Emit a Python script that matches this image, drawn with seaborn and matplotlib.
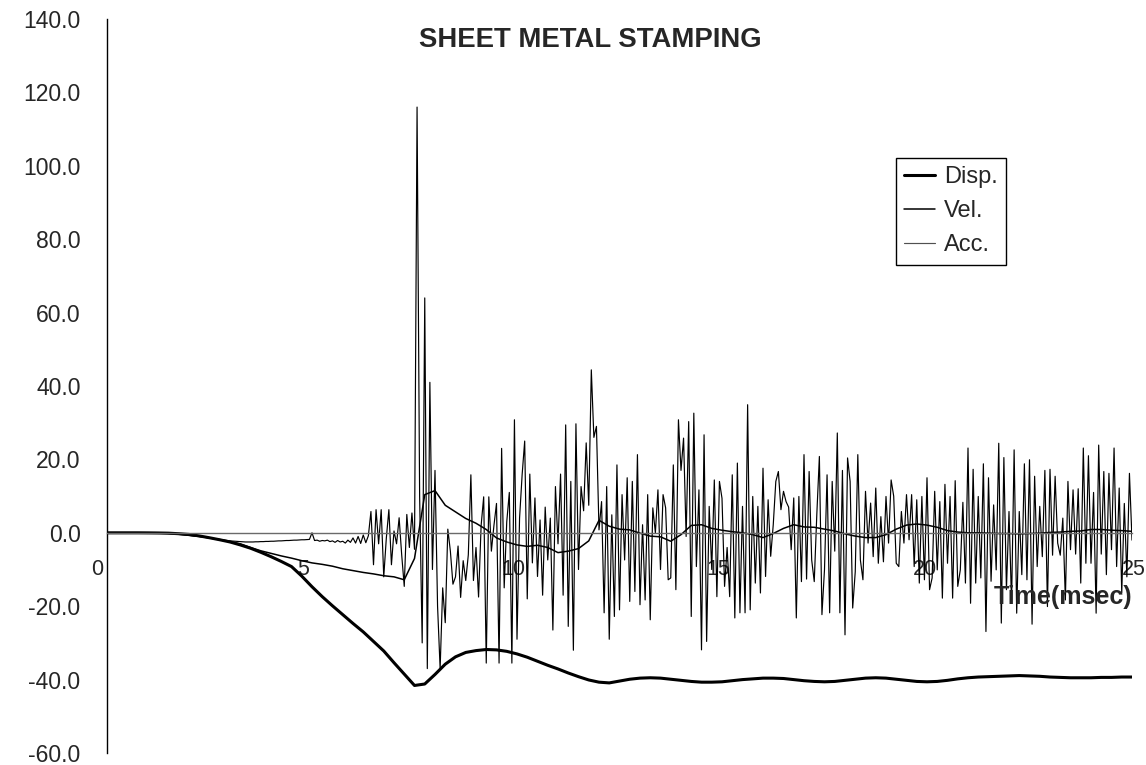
import numpy as np
import matplotlib
matplotlib.use("Agg")
import matplotlib.pyplot as plt
import matplotlib.transforms as mtransforms
from matplotlib.ticker import FormatStrFormatter
import seaborn as sns

# ---- Tick positions -------------------------------------------------------
x_ticks = [0, 5, 10, 15, 20, 25]
x_tick_labels = ["0", "5", "10", "15", "20", "25"]
y_ticks = [-60, -40, -20, 0, 20, 40, 60, 80, 100, 120, 140]

# ---- Displacement, sampled every 0.25 ms (0 .. 25 ms), one row per ms ------
disp = [
    0.0, 0.0, 0.0, 0.0,
    -0.02, -0.05, -0.1, -0.25,
    -0.45, -0.85, -1.35, -1.9,
    -2.5, -3.3, -4.2, -5.3,
    -6.5, -7.8, -9.2, -11.8,
    -14.7, -17.4, -19.9, -22.3,
    -24.7, -27.0, -29.6, -32.2,
    -35.4, -38.5, -41.6, -41.2,
    -38.6, -35.8, -33.8, -32.6,
    -32.1, -31.8, -31.9, -32.3,
    -33.0, -33.9, -35.0, -36.1,
    -37.1, -38.2, -39.2, -40.1,
    -40.7, -40.9, -40.4, -39.9,
    -39.6, -39.5, -39.6, -39.9,
    -40.2, -40.5, -40.7, -40.7,
    -40.6, -40.3, -40.0, -39.8,
    -39.6, -39.6, -39.7, -40.0,
    -40.3, -40.5, -40.6, -40.5,
    -40.2, -39.9, -39.6, -39.5,
    -39.6, -39.9, -40.2, -40.5,
    -40.6, -40.5, -40.2, -39.8,
    -39.5, -39.3, -39.2, -39.1,
    -39.0, -38.9, -39.0, -39.1,
    -39.3, -39.4, -39.5, -39.5,
    -39.5, -39.4, -39.4, -39.3,
    -39.3,
]

# ---- Velocity, sampled every 0.25 ms (0 .. 25 ms), one row per ms ----------
vel = [
    0.0, 0.0, 0.0, 0.0,
    -0.05, -0.1, -0.2, -0.4,
    -0.7, -1.0, -1.4, -1.9,
    -2.4, -3.0, -4.0, -4.9,
    -5.6, -6.3, -6.9, -7.6,
    -8.2, -8.6, -9.1, -9.8,
    -10.3, -10.8, -11.2, -11.7,
    -12.0, -12.8, -7.0, 10.4,
    11.5, 7.5, 5.7, 3.9,
    2.6, 0.9, -1.4, -2.5,
    -3.3, -3.7, -3.4, -4.0,
    -5.4, -5.0, -4.3, -2.2,
    3.4, 1.8, 1.0, 0.8,
    -0.1, -0.9, -1.1, -2.3,
    -0.5, 2.0, 2.2, 1.2,
    0.7, 0.3, 0.0, -0.5,
    -1.3, -0.2, 1.2, 2.2,
    1.6, 1.5, 1.0, 0.5,
    -0.3, -0.9, -1.3, -1.3,
    -0.5, 1.0, 2.1, 2.4,
    2.1, 1.5, 0.6, 0.2,
    0.0, 0.0, -0.1, -0.2,
    -0.2, -0.3, -0.2, -0.1,
    0.1, 0.2, 0.4, 0.5,
    0.9, 0.9, 0.7, 0.6,
    0.4,
]

# ---- Acceleration, sampled every 1/16 ms, one row per ms --------------------
acc_0_5 = [
    0, 0, 0, 0, 0, 0, 0, 0, 0, 0, 0, 0, 0, 0, 0, 0,
    0, 0, 0, 0, -0.05, -0.1, -0.1, -0.15, -0.2, -0.25, -0.3, -0.35, -0.4, -0.45, -0.5, -0.6,
    -0.7, -0.75, -0.85, -0.95, -1.0, -1.1, -1.2, -1.3, -1.4, -1.5, -1.6, -1.7, -1.8, -1.9, -2.0, -2.1,
    -2.2, -2.25, -2.3, -2.35, -2.4, -2.45, -2.5, -2.5, -2.5, -2.5, -2.45, -2.45, -2.4, -2.4, -2.35, -2.35,
    -2.3, -2.3, -2.25, -2.2, -2.2, -2.15, -2.1, -2.1, -2.05, -2.0, -2.0, -1.95, -1.9, -1.9, -1.85, -1.8,
]
acc_5_10 = [
    0.0, -2.1, -2.0, -2.3, -2.1, -2.2, -2.0, -2.4, -2.2, -2.6, -2.1, -2.5, -2.3, -2.8, -2.0, -2.6,
    -1.4, -2.8, -1.0, -2.9, -0.6, -2.7, -0.8, 5.8, -8.7, 6.3, -3.0, 6.3, -12.0, -1.5, 6.3, -8.7,
    0.5, -3.0, 4.1, -6.0, -14.6, 5.0, -4.0, 5.4, -4.5, 116.0, 10.0, -30.0, 64.0, -37.0, 41.0, -10.0,
    17.0, -20.0, -37.0, -15.0, -24.5, 1.0, -5.0, -14.0, -12.0, -3.6, -17.6, -7.6, -13.0, -6.0, 15.8, -13.0,
    -4.0, -17.5, 2.0, 9.8, -35.5, 9.8, -5.0, 2.0, 8.0, -35.5, 23.0, -15.0, 3.0, 11.0, -35.5, 30.8,
]
acc_10_15 = [
    -29.0, 4.0, 15.8, 25.0, -18.0, 16.0, -8.2, 9.5, -11.9, 3.5, -17.0, 7.0, -7.4, 4.0, -26.5, 12.6,
    -3.0, 16.0, -17.0, 29.4, -25.5, 14.0, -32.0, 29.7, -10.0, 12.6, 6.0, 24.5, 7.5, 44.4, 26.0, 29.0,
    0.8, 8.5, -21.8, 12.6, -29.0, 4.9, -22.8, 18.5, -21.0, 10.4, -7.4, 15.0, -18.7, 14.0, -16.0, 21.3,
    -19.6, 2.2, -18.3, 10.4, -23.7, 6.8, 0.0, 11.7, -10.0, 10.4, 6.8, -12.8, -12.3, 18.5, -15.5, 30.8,
    17.0, 25.8, -1.0, 30.3, -22.8, 32.6, -9.2, 11.7, -31.9, 26.7, -29.6, 7.2, -10.0, 14.4, -17.4, 14.0,
]
acc_15_20 = [
    9.4, -14.6, -4.0, -17.4, 15.8, -23.2, 19.0, -21.8, 7.2, -21.8, 34.9, -21.0, 9.9, -13.7, 7.2, -16.4,
    17.6, -11.9, 9.0, -6.4, 2.2, 14.0, 16.7, 6.3, 11.3, 8.5, 7.0, -4.6, 9.5, -23.2, 9.9, -13.3,
    21.3, -12.6, 16.7, -7.4, -13.3, 5.0, 20.8, -22.3, -10.0, 15.8, -21.8, 14.0, -5.0, 27.2, -21.8, 17.0,
    -27.8, 20.4, 14.0, -20.5, -10.6, 21.3, -7.4, -12.8, 11.3, -2.8, 8.1, -6.5, 12.2, -8.3, 4.4, -7.9,
    9.9, -2.8, 14.4, 10.0, -8.3, -9.2, 5.8, -2.8, 10.4, -1.9, 10.4, -9.2, 9.0, -13.7, 9.9, -12.8,
]
acc_20_25 = [
    15.0, -15.5, -12.3, 11.3, -10.1, 8.5, -17.8, 13.2, -8.3, 9.9, -17.8, 14.2, -14.6, -10.1, 8.3, -13.7,
    23.1, -19.2, 17.3, -13.7, 9.9, -12.3, 18.8, -26.9, 15.0, -13.2, 7.6, -10.1, 24.4, -24.6, 20.5, -15.5,
    5.8, -19.2, 22.6, -21.9, 5.8, -11.4, 18.8, -12.8, 19.9, -24.9, 15.4, -9.2, 7.2, -6.5, 17.0, -20.1,
    17.3, -6.1, 15.4, -2.8, -6.1, 4.0, -18.3, 14.0, -4.6, 11.7, -5.8, 12.0, -13.7, 23.1, -8.3, 21.0,
    -8.3, 11.0, -21.9, 23.9, -5.8, 16.7, -11.4, 16.2, -4.6, 23.1, -9.2, 12.2, -16.4, 8.0, -12.0, 16.2,
    -2.0,
]

acc = acc_0_5 + acc_5_10 + acc_10_15 + acc_15_20 + acc_20_25

# sample times (ms)
t_kin = np.arange(len(disp)) * 0.25
t_acc = np.arange(len(acc)) / 16.0

# ---- Style ------------------------------------------------------------------
sns.set_style("white")
plt.rcParams["font.family"] = ["Liberation Sans", "DejaVu Sans"]
plt.rcParams["axes.unicode_minus"] = False

W, H = 1146, 765
fig = plt.figure(figsize=(W / 100, H / 100), dpi=100)
fig.patch.set_facecolor("white")
ax = fig.add_axes([107 / W, 12 / H, 1025 / W, 734 / H])

sns.lineplot(x=t_acc, y=acc, ax=ax, color="black", linewidth=0.85,
             sort=False, legend=False, estimator=None)
sns.lineplot(x=t_kin, y=vel, ax=ax, color="black", linewidth=1.1,
             sort=False, legend=False, estimator=None)
sns.lineplot(x=t_kin, y=disp, ax=ax, color="black", linewidth=2.2,
             sort=False, legend=False, estimator=None)
line_acc, line_vel, line_disp = ax.lines[:3]

ax.set_xlim(0, 25)
ax.set_ylim(-60, 140)
ax.set_xlabel("")
ax.set_ylabel("")

# axes: y spine on the left, x axis line through zero
for side in ("top", "right"):
    ax.spines[side].set_visible(False)
ax.spines["left"].set_color("black")
ax.spines["left"].set_linewidth(1.0)
ax.spines["bottom"].set_position(("data", 0))
ax.spines["bottom"].set_color("#6a6a6a")
ax.spines["bottom"].set_linewidth(1.0)

ax.set_yticks(y_ticks)
ax.yaxis.set_major_formatter(FormatStrFormatter("%.1f"))
ax.set_xticks(x_ticks)
ax.set_xticklabels(x_tick_labels)
ax.tick_params(axis="y", direction="out", length=5, width=1, color="black",
               pad=14, labelsize=16.5)
ax.tick_params(axis="x", length=0, pad=19, labelsize=15.5)

# small horizontal nudges (pixels) for the time labels
label_nudge_px = [-10, -9, -4, -4, -2, 2]
for lab, dx in zip(ax.get_xticklabels(), label_nudge_px):
    shift = mtransforms.ScaledTranslation(dx / 100, 0, fig.dpi_scale_trans)
    lab.set_transform(lab.get_transform() + shift)

# title and axis caption
fig.text(590 / W, 1 - 40 / H, "SHEET METAL STAMPING", ha="center", va="center",
         fontsize=19.8, fontweight="bold")
ax.text(25.02, -17.4, "Time(msec)", ha="right", va="center",
        fontsize=18, fontweight="bold")

leg = ax.legend([line_disp, line_vel, line_acc], ["Disp.", "Vel.", "Acc."],
                loc="upper left", bbox_to_anchor=(896 / W, 1 - 158 / H),
                bbox_transform=fig.transFigure, frameon=True, fancybox=False,
                shadow=False, fontsize=17, handlelength=1.31,
                handletextpad=0.38, labelspacing=0.51, borderpad=0.35,
                borderaxespad=0)
leg.get_frame().set_edgecolor("black")
leg.get_frame().set_linewidth(1.0)
leg.get_frame().set_facecolor("white")
leg.get_frame().set_alpha(1.0)
leg.get_lines()[2].set_color("#505050")

fig.savefig("out.png", dpi=100, facecolor="white")
